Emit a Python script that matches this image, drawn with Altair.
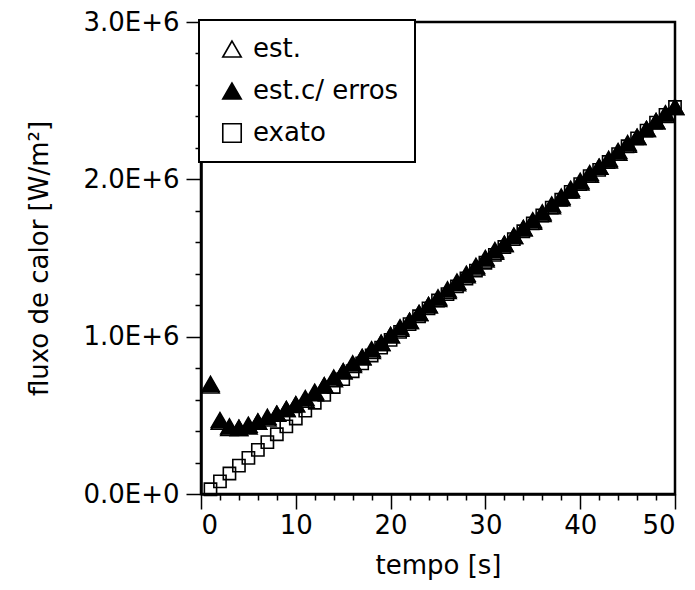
import altair as alt
import pandas as pd

# time [s]
tempo = list(range(1, 51))

# heat flux values in units of 1E+6 W/m^2
exato = [0.03, 0.08, 0.13, 0.18, 0.23, 0.28, 0.33, 0.38, 0.43, 0.48,
         0.53, 0.58, 0.63, 0.68, 0.73, 0.78, 0.83, 0.88, 0.93, 0.98,
         1.03, 1.08, 1.13, 1.18, 1.23, 1.27, 1.32, 1.37, 1.42, 1.47,
         1.52, 1.57, 1.62, 1.67, 1.72, 1.77, 1.82, 1.87, 1.92, 1.97,
         2.02, 2.06, 2.11, 2.16, 2.21, 2.26, 2.31, 2.36, 2.41, 2.46]

est_erros = [0.70, 0.47, 0.43, 0.42, 0.44, 0.46, 0.49, 0.51, 0.54, 0.57,
             0.61, 0.65, 0.69, 0.74, 0.78, 0.83, 0.87, 0.92, 0.96, 1.01,
             1.06, 1.10, 1.15, 1.20, 1.25, 1.30, 1.35, 1.40, 1.45, 1.50,
             1.55, 1.59, 1.64, 1.69, 1.74, 1.79, 1.84, 1.89, 1.94, 1.99,
             2.04, 2.08, 2.13, 2.18, 2.23, 2.27, 2.32, 2.37, 2.42, 2.46]

est = [0.69, 0.46, 0.42, 0.42, 0.43, 0.46, 0.48, 0.51, 0.54, 0.57,
       0.60, 0.64, 0.69, 0.73, 0.78, 0.82, 0.87, 0.91, 0.96, 1.01,
       1.05, 1.10, 1.15, 1.20, 1.24, 1.29, 1.34, 1.39, 1.44, 1.49,
       1.54, 1.59, 1.64, 1.69, 1.73, 1.78, 1.83, 1.88, 1.93, 1.98,
       2.03, 2.08, 2.12, 2.17, 2.22, 2.27, 2.32, 2.37, 2.41, 2.46]

series_names = ["est.", "est.c/ erros", "exato"]
series_shapes = ["triangle-up", "triangle-up", "square"]
series_fills = ["transparent", "black", "transparent"]
series_strokes = ["black", "black", "black"]

x_major = [0, 10, 20, 30, 40, 50]
x_minor = [v for v in range(0, 51, 2) if v % 10 != 0]
y_major = [0, 1e6, 2e6, 3e6]
y_minor = [v * 1e5 for v in range(0, 31, 2) if v % 10 != 0]

rows = []
for name, vals in [("exato", exato), ("est.", est), ("est.c/ erros", est_erros)]:
    for t, v in zip(tempo, vals):
        rows.append({"tempo": t, "fluxo": v * 1e6, "serie": name})
df = pd.DataFrame(rows)

FONT = "DejaVu Sans"

x_scale = alt.Scale(domain=[0, 50], nice=False, zero=False)
y_scale = alt.Scale(domain=[0, 3e6], nice=False)

leg = alt.Legend(title=None, orient="none", legendX=-2, legendY=-2,
                 symbolStrokeWidth=1.6, symbolOpacity=1, symbolSize=340)

x_enc = alt.X("tempo:Q", scale=x_scale,
              axis=alt.Axis(orient="bottom", values=x_major, title="tempo [s]",
                            format="d", tickSize=15, labelPadding=3,
                            titlePadding=14))
y_enc = alt.Y("fluxo:Q", scale=y_scale,
              axis=alt.Axis(orient="left", values=y_major,
                            title="fluxo de calor [W/m²]",
                            labelExpr="datum.value == 0 ? '0.0E+0' : format(datum.value/1e6, '.1f') + 'E+6'",
                            tickSize=15, labelPadding=7, titlePadding=30))
shape_enc = alt.Shape("serie:N",
                      scale=alt.Scale(domain=series_names, range=series_shapes),
                      legend=leg)
fill_enc = alt.Fill("serie:N",
                    scale=alt.Scale(domain=series_names, range=series_fills),
                    legend=leg)
stroke_enc = alt.Stroke("serie:N",
                        scale=alt.Scale(domain=series_names, range=series_strokes),
                        legend=leg)

base = alt.Chart(df)

squares = base.transform_filter(alt.datum.serie == "exato").mark_point(
    size=150, strokeWidth=1.6, opacity=1, clip=False
).encode(x=x_enc, y=y_enc, shape=shape_enc, fill=fill_enc, stroke=stroke_enc)

triangles = base.transform_filter(alt.datum.serie != "exato").mark_point(
    size=300, strokeWidth=1.6, opacity=1, clip=False
).encode(x=x_enc, y=y_enc, shape=shape_enc, fill=fill_enc, stroke=stroke_enc,
         order=alt.Order("ord:Q")).transform_calculate(
    ord="datum.serie == 'est.' ? 0 : 1"
)

minor = base.mark_point(opacity=0).encode(
    x=alt.X("tempo:Q", scale=x_scale,
            axis=alt.Axis(orient="bottom", values=x_minor, labels=False,
                          domain=False, title=None, tickSize=6)),
    y=alt.Y("fluxo:Q", scale=y_scale,
            axis=alt.Axis(orient="left", values=y_minor, labels=False,
                          domain=False, title=None, tickSize=6)),
)

chart = alt.layer(alt.layer(squares, triangles), minor).resolve_axis(
    x="independent", y="independent"
).properties(
    width=474, height=472,
    padding={"left": 193, "top": 14, "right": 12, "bottom": 90},
    autosize=alt.AutoSizeParams(type="none"),
).configure_view(
    stroke="black", strokeWidth=2.5
).configure_axis(
    domainColor="black", domainWidth=2.5, tickColor="black", tickWidth=1.5,
    grid=False, labelFont=FONT, labelFontSize=26, labelColor="black",
    titleFont=FONT, titleFontSize=26, titleColor="black",
    titleFontWeight="normal"
).configure_legend(
    strokeColor="black", strokeWidth=2, fillColor="white", padding=16,
    labelFont=FONT, labelFontSize=26, labelColor="black", labelOffset=8,
    rowPadding=16, symbolOffset=4
)

chart.save("out.html", embed_options={"renderer": "svg", "actions": False})
